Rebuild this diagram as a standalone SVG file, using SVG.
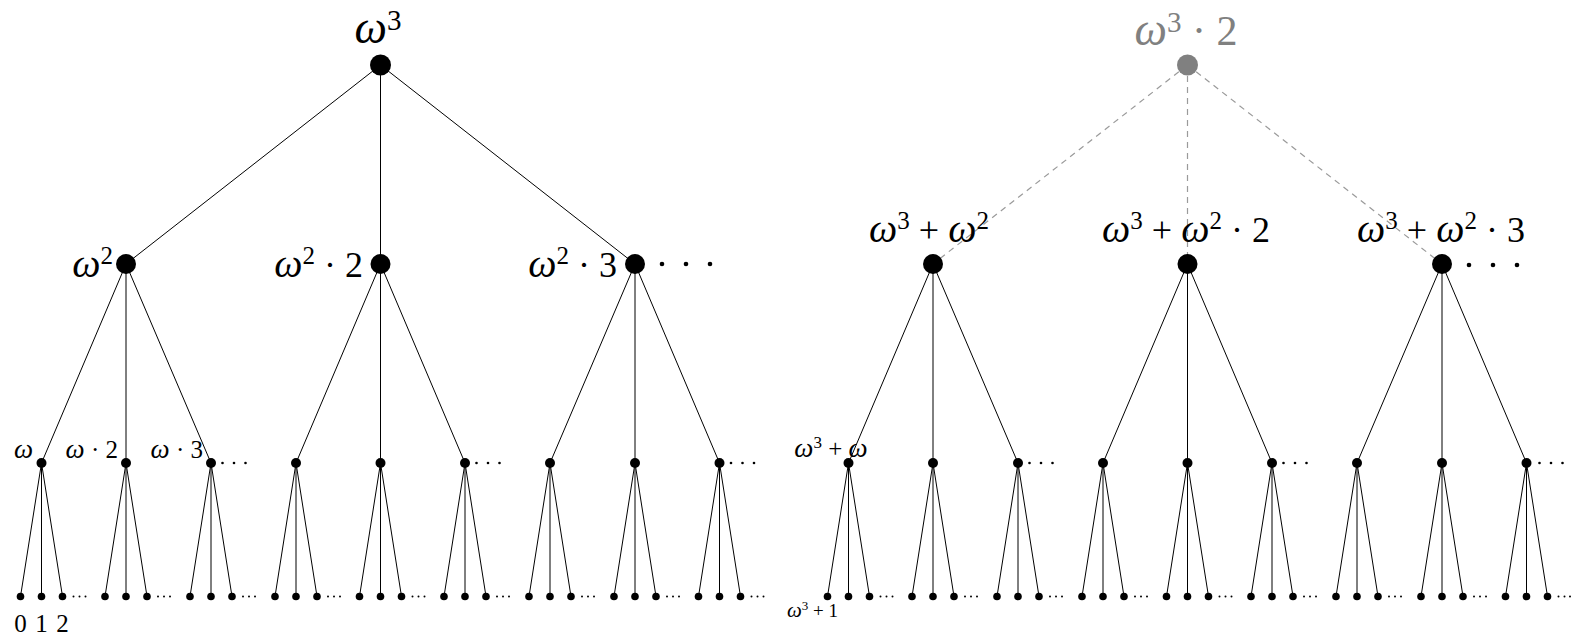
<svg xmlns="http://www.w3.org/2000/svg" width="1571" height="639" viewBox="0 0 1571 639" font-family="'Liberation Serif', serif">
<style>
.e{stroke:#000;stroke-width:1;fill:none}
.d{stroke:#9a9a9a;stroke-width:1.2;stroke-dasharray:6 5;fill:none}
.n{fill:#000}
.g{fill:#808080}
text{font-family:"Liberation Serif",serif;fill:#000}
.top{font-size:42px}
.big{font-size:36px}
.mid{font-size:25px}
.sm{font-size:19px}
.gt{fill:#808080}
.i{font-style:italic}
</style>
<g id="connectors">
<line class="e" x1="380.5" y1="65" x2="126" y2="264"/>
<line class="e" x1="380.5" y1="65" x2="380.5" y2="264"/>
<line class="e" x1="380.5" y1="65" x2="635" y2="264"/>
<line class="e" x1="126" y1="264" x2="41.5" y2="463"/>
<line class="e" x1="126" y1="264" x2="126" y2="463"/>
<line class="e" x1="126" y1="264" x2="211" y2="463"/>
<line class="e" x1="380.5" y1="264" x2="296" y2="463"/>
<line class="e" x1="380.5" y1="264" x2="380.5" y2="463"/>
<line class="e" x1="380.5" y1="264" x2="465" y2="463"/>
<line class="e" x1="635" y1="264" x2="550" y2="463"/>
<line class="e" x1="635" y1="264" x2="635" y2="463"/>
<line class="e" x1="635" y1="264" x2="719.5" y2="463"/>
<path class="e" d="M41.5 463L20.5 596.5M41.5 463V596.5M41.5 463L62.5 596.5M126 463L105 596.5M126 463V596.5M126 463L147 596.5M211 463L190 596.5M211 463V596.5M211 463L232 596.5M296 463L275 596.5M296 463V596.5M296 463L317 596.5M380.5 463L359.5 596.5M380.5 463V596.5M380.5 463L401.5 596.5M465 463L444 596.5M465 463V596.5M465 463L486 596.5M550 463L529 596.5M550 463V596.5M550 463L571 596.5M635 463L614 596.5M635 463V596.5M635 463L656 596.5M719.5 463L698.5 596.5M719.5 463V596.5M719.5 463L740.5 596.5"/>
<line class="d" x1="1187.5" y1="65" x2="933" y2="264"/>
<line class="d" x1="1187.5" y1="65" x2="1187.5" y2="264"/>
<line class="d" x1="1187.5" y1="65" x2="1442" y2="264"/>
<line class="e" x1="933" y1="264" x2="848.5" y2="463"/>
<line class="e" x1="933" y1="264" x2="933" y2="463"/>
<line class="e" x1="933" y1="264" x2="1018" y2="463"/>
<line class="e" x1="1187.5" y1="264" x2="1103" y2="463"/>
<line class="e" x1="1187.5" y1="264" x2="1187.5" y2="463"/>
<line class="e" x1="1187.5" y1="264" x2="1272" y2="463"/>
<line class="e" x1="1442" y1="264" x2="1357" y2="463"/>
<line class="e" x1="1442" y1="264" x2="1442" y2="463"/>
<line class="e" x1="1442" y1="264" x2="1526.5" y2="463"/>
<path class="e" d="M848.5 463L827.5 596.5M848.5 463V596.5M848.5 463L869.5 596.5M933 463L912 596.5M933 463V596.5M933 463L954 596.5M1018 463L997 596.5M1018 463V596.5M1018 463L1039 596.5M1103 463L1082 596.5M1103 463V596.5M1103 463L1124 596.5M1187.5 463L1166.5 596.5M1187.5 463V596.5M1187.5 463L1208.5 596.5M1272 463L1251 596.5M1272 463V596.5M1272 463L1293 596.5M1357 463L1336 596.5M1357 463V596.5M1357 463L1378 596.5M1442 463L1421 596.5M1442 463V596.5M1442 463L1463 596.5M1526.5 463L1505.5 596.5M1526.5 463V596.5M1526.5 463L1547.5 596.5"/>
</g>

<!-- Left tree -->
<g id="L-root"><circle class="n" cx="380.5" cy="65" r="10.5"/><text class="top" x="378" y="43" text-anchor="middle"><tspan class="i" font-size="46">ω</tspan><tspan font-size="29" dy="-13">3</tspan></text></g>
<g id="L-a"><circle class="n" cx="126" cy="264" r="10"/><text class="big" x="113" y="277" text-anchor="end"><tspan class="i" font-size="40">ω</tspan><tspan font-size="25" dy="-13">2</tspan></text></g>
<g id="L-b"><circle class="n" cx="380.5" cy="264" r="10"/><text class="big" x="363" y="277" text-anchor="end"><tspan class="i" font-size="40">ω</tspan><tspan font-size="25" dy="-13">2</tspan><tspan dy="13"> · 2</tspan></text></g>
<g id="L-c"><circle class="n" cx="635" cy="264" r="10"/><text class="big" x="617" y="277" text-anchor="end"><tspan class="i" font-size="40">ω</tspan><tspan font-size="25" dy="-13">2</tspan><tspan dy="13"> · 3</tspan></text><circle class="n" cx="662" cy="264" r="2.3"/><circle class="n" cx="686" cy="264" r="2.3"/><circle class="n" cx="710" cy="264" r="2.3"/></g>

<g id="L-a1"><circle class="n" cx="41.5" cy="463" r="5"/><text class="mid" x="33" y="458" text-anchor="end"><tspan class="i" font-size="27">ω</tspan></text></g>
<g id="L-a2"><circle class="n" cx="126" cy="463" r="5"/><text class="mid" x="118" y="458" text-anchor="end"><tspan class="i" font-size="27">ω</tspan> · 2</text></g>
<g id="L-a3"><circle class="n" cx="211" cy="463" r="5"/><text class="mid" x="203" y="458" text-anchor="end"><tspan class="i" font-size="27">ω</tspan> · 3</text><circle class="n" cx="222.5" cy="463" r="1.3"/><circle class="n" cx="234" cy="463" r="1.3"/><circle class="n" cx="245.5" cy="463" r="1.3"/></g>
<g id="L-b1"><circle class="n" cx="296" cy="463" r="5"/></g>
<g id="L-b2"><circle class="n" cx="380.5" cy="463" r="5"/></g>
<g id="L-b3"><circle class="n" cx="465" cy="463" r="5"/><circle class="n" cx="476.5" cy="463" r="1.3"/><circle class="n" cx="488" cy="463" r="1.3"/><circle class="n" cx="499.5" cy="463" r="1.3"/></g>
<g id="L-c1"><circle class="n" cx="550" cy="463" r="5"/></g>
<g id="L-c2"><circle class="n" cx="635" cy="463" r="5"/></g>
<g id="L-c3"><circle class="n" cx="719.5" cy="463" r="5"/><circle class="n" cx="731" cy="463" r="1.3"/><circle class="n" cx="742.5" cy="463" r="1.3"/><circle class="n" cx="754" cy="463" r="1.3"/></g>

<g id="L-leaves">
<g id="L-a1-0"><circle class="n" cx="20.5" cy="596.5" r="3.8"/><text class="mid" x="20.5" y="632" text-anchor="middle">0</text></g>
<g id="L-a1-1"><circle class="n" cx="41.5" cy="596.5" r="3.8"/><text class="mid" x="41.5" y="632" text-anchor="middle">1</text></g>
<g id="L-a1-2"><circle class="n" cx="62.5" cy="596.5" r="3.8"/><text class="mid" x="62.5" y="632" text-anchor="middle">2</text></g>
<g id="L-a2-l"><circle class="n" cx="105" cy="596.5" r="3.8"/><circle class="n" cx="126" cy="596.5" r="3.8"/><circle class="n" cx="147" cy="596.5" r="3.8"/></g>
<g id="L-a3-l"><circle class="n" cx="190" cy="596.5" r="3.8"/><circle class="n" cx="211" cy="596.5" r="3.8"/><circle class="n" cx="232" cy="596.5" r="3.8"/></g>
<g id="L-b1-l"><circle class="n" cx="275" cy="596.5" r="3.8"/><circle class="n" cx="296" cy="596.5" r="3.8"/><circle class="n" cx="317" cy="596.5" r="3.8"/></g>
<g id="L-b2-l"><circle class="n" cx="359.5" cy="596.5" r="3.8"/><circle class="n" cx="380.5" cy="596.5" r="3.8"/><circle class="n" cx="401.5" cy="596.5" r="3.8"/></g>
<g id="L-b3-l"><circle class="n" cx="444" cy="596.5" r="3.8"/><circle class="n" cx="465" cy="596.5" r="3.8"/><circle class="n" cx="486" cy="596.5" r="3.8"/></g>
<g id="L-c1-l"><circle class="n" cx="529" cy="596.5" r="3.8"/><circle class="n" cx="550" cy="596.5" r="3.8"/><circle class="n" cx="571" cy="596.5" r="3.8"/></g>
<g id="L-c2-l"><circle class="n" cx="614" cy="596.5" r="3.8"/><circle class="n" cx="635" cy="596.5" r="3.8"/><circle class="n" cx="656" cy="596.5" r="3.8"/></g>
<g id="L-c3-l"><circle class="n" cx="698.5" cy="596.5" r="3.8"/><circle class="n" cx="719.5" cy="596.5" r="3.8"/><circle class="n" cx="740.5" cy="596.5" r="3.8"/></g>
</g>

<!-- Right tree -->
<g id="R-root"><circle class="g" cx="1187.5" cy="65" r="10.5"/><text class="top gt" x="1186" y="45" text-anchor="middle"><tspan class="i gt" font-size="46">ω</tspan><tspan class="gt" font-size="29" dy="-13">3</tspan><tspan class="gt" dy="13"> · 2</tspan></text></g>
<g id="R-A"><circle class="n" cx="933" cy="264" r="10"/><text class="big" x="929" y="242" text-anchor="middle"><tspan class="i" font-size="40">ω</tspan><tspan font-size="25" dy="-13">3</tspan><tspan dy="13"> + </tspan><tspan class="i" font-size="40">ω</tspan><tspan font-size="25" dy="-13">2</tspan></text></g>
<g id="R-B"><circle class="n" cx="1187.5" cy="264" r="10"/><text class="big" x="1186" y="242" text-anchor="middle"><tspan class="i" font-size="40">ω</tspan><tspan font-size="25" dy="-13">3</tspan><tspan dy="13"> + </tspan><tspan class="i" font-size="40">ω</tspan><tspan font-size="25" dy="-13">2</tspan><tspan dy="13"> · 2</tspan></text></g>
<g id="R-C"><circle class="n" cx="1442" cy="264" r="10"/><text class="big" x="1441" y="242" text-anchor="middle"><tspan class="i" font-size="40">ω</tspan><tspan font-size="25" dy="-13">3</tspan><tspan dy="13"> + </tspan><tspan class="i" font-size="40">ω</tspan><tspan font-size="25" dy="-13">2</tspan><tspan dy="13"> · 3</tspan></text><circle class="n" cx="1469" cy="265" r="2.3"/><circle class="n" cx="1493" cy="265" r="2.3"/><circle class="n" cx="1517" cy="265" r="2.3"/></g>

<g id="R-A1"><circle class="n" cx="848.5" cy="463" r="5"/><text class="mid" x="831" y="457" text-anchor="middle"><tspan class="i" font-size="27">ω</tspan><tspan font-size="17" dy="-9">3</tspan><tspan dy="9"> + </tspan><tspan class="i" font-size="27">ω</tspan></text></g>
<g id="R-A2"><circle class="n" cx="933" cy="463" r="5"/></g>
<g id="R-A3"><circle class="n" cx="1018" cy="463" r="5"/><circle class="n" cx="1029.5" cy="463" r="1.3"/><circle class="n" cx="1041" cy="463" r="1.3"/><circle class="n" cx="1052.5" cy="463" r="1.3"/></g>
<g id="R-B1"><circle class="n" cx="1103" cy="463" r="5"/></g>
<g id="R-B2"><circle class="n" cx="1187.5" cy="463" r="5"/></g>
<g id="R-B3"><circle class="n" cx="1272" cy="463" r="5"/><circle class="n" cx="1283.5" cy="463" r="1.3"/><circle class="n" cx="1295" cy="463" r="1.3"/><circle class="n" cx="1306.5" cy="463" r="1.3"/></g>
<g id="R-C1"><circle class="n" cx="1357" cy="463" r="5"/></g>
<g id="R-C2"><circle class="n" cx="1442" cy="463" r="5"/></g>
<g id="R-C3"><circle class="n" cx="1526.5" cy="463" r="5"/><circle class="n" cx="1539.5" cy="463" r="1.3"/><circle class="n" cx="1551" cy="463" r="1.3"/><circle class="n" cx="1562.5" cy="463" r="1.3"/></g>

<g id="R-leaves">
<g id="R-A1-0"><circle class="n" cx="827.5" cy="596.5" r="3.8"/><text class="sm" x="787" y="617"><tspan class="i" font-size="21">ω</tspan><tspan font-size="13" dy="-7">3</tspan><tspan dy="7"> + 1</tspan></text></g>
<g id="R-A1-l"><circle class="n" cx="848.5" cy="596.5" r="3.8"/><circle class="n" cx="869.5" cy="596.5" r="3.8"/></g>
<g id="R-A2-l"><circle class="n" cx="912" cy="596.5" r="3.8"/><circle class="n" cx="933" cy="596.5" r="3.8"/><circle class="n" cx="954" cy="596.5" r="3.8"/></g>
<g id="R-A3-l"><circle class="n" cx="997" cy="596.5" r="3.8"/><circle class="n" cx="1018" cy="596.5" r="3.8"/><circle class="n" cx="1039" cy="596.5" r="3.8"/></g>
<g id="R-B1-l"><circle class="n" cx="1082" cy="596.5" r="3.8"/><circle class="n" cx="1103" cy="596.5" r="3.8"/><circle class="n" cx="1124" cy="596.5" r="3.8"/></g>
<g id="R-B2-l"><circle class="n" cx="1166.5" cy="596.5" r="3.8"/><circle class="n" cx="1187.5" cy="596.5" r="3.8"/><circle class="n" cx="1208.5" cy="596.5" r="3.8"/></g>
<g id="R-B3-l"><circle class="n" cx="1251" cy="596.5" r="3.8"/><circle class="n" cx="1272" cy="596.5" r="3.8"/><circle class="n" cx="1293" cy="596.5" r="3.8"/></g>
<g id="R-C1-l"><circle class="n" cx="1336" cy="596.5" r="3.8"/><circle class="n" cx="1357" cy="596.5" r="3.8"/><circle class="n" cx="1378" cy="596.5" r="3.8"/></g>
<g id="R-C2-l"><circle class="n" cx="1421" cy="596.5" r="3.8"/><circle class="n" cx="1442" cy="596.5" r="3.8"/><circle class="n" cx="1463" cy="596.5" r="3.8"/></g>
<g id="R-C3-l"><circle class="n" cx="1505.5" cy="596.5" r="3.8"/><circle class="n" cx="1526.5" cy="596.5" r="3.8"/><circle class="n" cx="1547.5" cy="596.5" r="3.8"/></g>
</g>

<g id="leaf-ellipses">
<circle class="n" cx="73.5" cy="596.5" r="1"/><circle class="n" cx="79.5" cy="596.5" r="1"/><circle class="n" cx="85.5" cy="596.5" r="1"/>
<circle class="n" cx="158" cy="596.5" r="1"/><circle class="n" cx="164" cy="596.5" r="1"/><circle class="n" cx="170" cy="596.5" r="1"/>
<circle class="n" cx="243" cy="596.5" r="1"/><circle class="n" cx="249" cy="596.5" r="1"/><circle class="n" cx="255" cy="596.5" r="1"/>
<circle class="n" cx="328" cy="596.5" r="1"/><circle class="n" cx="334" cy="596.5" r="1"/><circle class="n" cx="340" cy="596.5" r="1"/>
<circle class="n" cx="412.5" cy="596.5" r="1"/><circle class="n" cx="418.5" cy="596.5" r="1"/><circle class="n" cx="424.5" cy="596.5" r="1"/>
<circle class="n" cx="497" cy="596.5" r="1"/><circle class="n" cx="503" cy="596.5" r="1"/><circle class="n" cx="509" cy="596.5" r="1"/>
<circle class="n" cx="582" cy="596.5" r="1"/><circle class="n" cx="588" cy="596.5" r="1"/><circle class="n" cx="594" cy="596.5" r="1"/>
<circle class="n" cx="667" cy="596.5" r="1"/><circle class="n" cx="673" cy="596.5" r="1"/><circle class="n" cx="679" cy="596.5" r="1"/>
<circle class="n" cx="751.5" cy="596.5" r="1"/><circle class="n" cx="757.5" cy="596.5" r="1"/><circle class="n" cx="763.5" cy="596.5" r="1"/>
<circle class="n" cx="880.5" cy="596.5" r="1"/><circle class="n" cx="886.5" cy="596.5" r="1"/><circle class="n" cx="892.5" cy="596.5" r="1"/>
<circle class="n" cx="965" cy="596.5" r="1"/><circle class="n" cx="971" cy="596.5" r="1"/><circle class="n" cx="977" cy="596.5" r="1"/>
<circle class="n" cx="1050" cy="596.5" r="1"/><circle class="n" cx="1056" cy="596.5" r="1"/><circle class="n" cx="1062" cy="596.5" r="1"/>
<circle class="n" cx="1135" cy="596.5" r="1"/><circle class="n" cx="1141" cy="596.5" r="1"/><circle class="n" cx="1147" cy="596.5" r="1"/>
<circle class="n" cx="1219.5" cy="596.5" r="1"/><circle class="n" cx="1225.5" cy="596.5" r="1"/><circle class="n" cx="1231.5" cy="596.5" r="1"/>
<circle class="n" cx="1304" cy="596.5" r="1"/><circle class="n" cx="1310" cy="596.5" r="1"/><circle class="n" cx="1316" cy="596.5" r="1"/>
<circle class="n" cx="1389" cy="596.5" r="1"/><circle class="n" cx="1395" cy="596.5" r="1"/><circle class="n" cx="1401" cy="596.5" r="1"/>
<circle class="n" cx="1474" cy="596.5" r="1"/><circle class="n" cx="1480" cy="596.5" r="1"/><circle class="n" cx="1486" cy="596.5" r="1"/>
<circle class="n" cx="1558.5" cy="596.5" r="1"/><circle class="n" cx="1564.5" cy="596.5" r="1"/><circle class="n" cx="1570" cy="596.5" r="1"/>
</g>
</svg>
